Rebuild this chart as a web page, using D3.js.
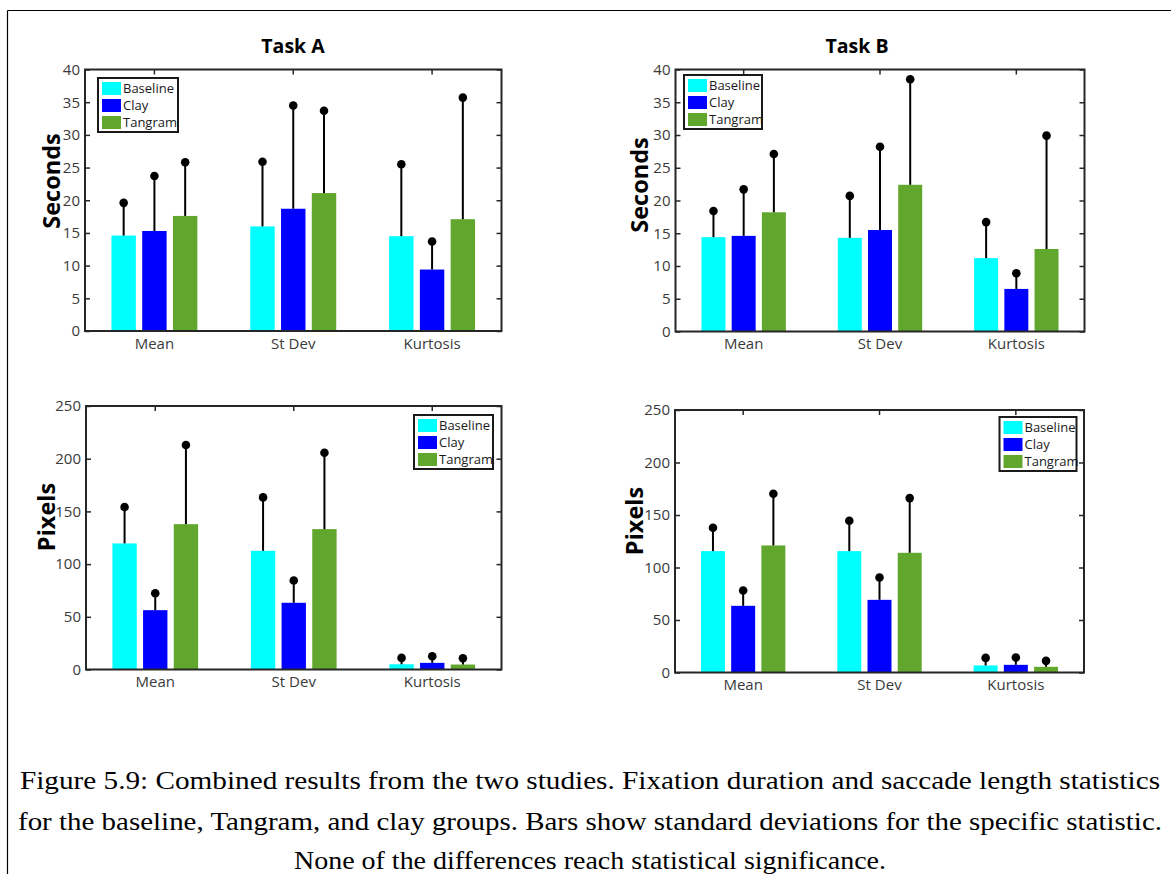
<!DOCTYPE html>
<html>
<head>
<meta charset="utf-8">
<script src="https://cdn.jsdelivr.net/npm/d3@7"></script>
<style>
  html, body { margin: 0; padding: 0; background: #fff; }
  svg { display: block; }
</style>
</head>
<body>
<svg id="fig" width="1171" height="874"></svg>
<script>
// Statistic categories on the x axis and the three participant groups
const categories = ["Mean", "St Dev", "Kurtosis"];
const groups = ["Baseline", "Clay", "Tangram"];
const groupColors = ["#00FFFF", "#0000FF", "#62A72D"];

// Task A, fixation duration (seconds): bar value and standard deviation
const taskASecBaseline = [14.6, 16.0, 14.5];
const taskASecBaselineSd = [5.0, 9.9, 11.0];
const taskASecClay = [15.3, 18.7, 9.4];
const taskASecClaySd = [8.4, 15.8, 4.3];
const taskASecTangram = [17.6, 21.1, 17.1];
const taskASecTangramSd = [8.2, 12.6, 18.6];

// Task B, fixation duration (seconds)
const taskBSecBaseline = [14.4, 14.3, 11.2];
const taskBSecBaselineSd = [4.0, 6.4, 5.5];
const taskBSecClay = [14.6, 15.5, 6.5];
const taskBSecClaySd = [7.1, 12.7, 2.4];
const taskBSecTangram = [18.2, 22.4, 12.6];
const taskBSecTangramSd = [8.9, 16.1, 17.3];

// Task A, saccade length (pixels)
const taskAPxBaseline = [119.6, 112.6, 5.0];
const taskAPxBaselineSd = [34.5, 50.7, 6.0];
const taskAPxClay = [56.3, 63.3, 6.3];
const taskAPxClaySd = [16.1, 21.2, 6.3];
const taskAPxTangram = [137.9, 133.2, 4.7];
const taskAPxTangramSd = [75.1, 72.5, 6.0];

// Task B, saccade length (pixels)
const taskBPxBaseline = [115.6, 115.6, 6.7];
const taskBPxBaselineSd = [22.2, 28.9, 7.2];
const taskBPxClay = [63.5, 69.2, 7.3];
const taskBPxClaySd = [14.6, 21.3, 7.0];
const taskBPxTangram = [121.0, 114.0, 5.4];
const taskBPxTangramSd = [49.2, 52.1, 5.7];

// Axis ticks
const secondsTicks = [0, 5, 10, 15, 20, 25, 30, 35, 40];
const pixelsTicks = [0, 50, 100, 150, 200, 250];

// Caption lines
const captionLines = [
  "Figure 5.9: Combined results from the two studies. Fixation duration and saccade length statistics",
  "for the baseline, Tangram, and clay groups. Bars show standard deviations for the specific statistic.",
  "None of the differences reach statistical significance."
];

const svg = d3.select("#fig");

// Page frame lines (top and left)
svg.append("line").attr("x1", 7.5).attr("y1", 10.5).attr("x2", 1171).attr("y2", 10.5)
  .attr("stroke", "#000").attr("stroke-width", 1.2);
svg.append("line").attr("x1", 7.5).attr("y1", 10.5).attr("x2", 7.5).attr("y2", 874)
  .attr("stroke", "#000").attr("stroke-width", 1.2);

const panels = [
  {
    title: "Task A", ylabel: "Seconds", ticks: secondsTicks, ymax: 40,
    box: { x0: 85, x1: 501.5, y0: 69.5, y1: 331 },
    titlePos: [293, 53], ylabelPos: [52, 181],
    legend: { x: 98, y: 78, w: 80 },
    series: [
      [taskASecBaseline, taskASecBaselineSd],
      [taskASecClay, taskASecClaySd],
      [taskASecTangram, taskASecTangramSd]
    ]
  },
  {
    title: "Task B", ylabel: "Seconds", ticks: secondsTicks, ymax: 40,
    box: { x0: 675.5, x1: 1084.5, y0: 69.5, y1: 331.5 },
    titlePos: [857, 53], ylabelPos: [640, 185],
    legend: { x: 684, y: 75, w: 78 },
    series: [
      [taskBSecBaseline, taskBSecBaselineSd],
      [taskBSecClay, taskBSecClaySd],
      [taskBSecTangram, taskBSecTangramSd]
    ]
  },
  {
    title: null, ylabel: "Pixels", ticks: pixelsTicks, ymax: 250,
    box: { x0: 86, x1: 501.5, y0: 406, y1: 669.5 },
    titlePos: null, ylabelPos: [47, 517],
    legend: { x: 414, y: 415, w: 79 },
    series: [
      [taskAPxBaseline, taskAPxBaselineSd],
      [taskAPxClay, taskAPxClaySd],
      [taskAPxTangram, taskAPxTangramSd]
    ]
  },
  {
    title: null, ylabel: "Pixels", ticks: pixelsTicks, ymax: 250,
    box: { x0: 675, x1: 1084, y0: 410, y1: 672.5 },
    titlePos: null, ylabelPos: [635, 521],
    legend: { x: 999.5, y: 417, w: 77 },
    series: [
      [taskBPxBaseline, taskBPxBaselineSd],
      [taskBPxClay, taskBPxClaySd],
      [taskBPxTangram, taskBPxTangramSd]
    ]
  }
];

const axisColor = "#262626";
const tickFont = "'Open Sans', 'DejaVu Sans', sans-serif";

panels.forEach(p => {
  const b = p.box;
  const g = svg.append("g");

  const x = d3.scaleBand().domain(categories).range([b.x0, b.x1]).padding(0);
  const inner = d3.scaleBand().domain(groups).range([0, x.bandwidth()])
    .paddingInner(0.206).paddingOuter(0.86);
  const y = d3.scaleLinear().domain([0, p.ymax]).range([b.y1, b.y0]);

  // bars
  p.series.forEach((s, gi) => {
    const vals = s[0];
    g.append("g").selectAll("rect").data(categories).join("rect")
      .attr("x", (c) => x(c) + inner(groups[gi]))
      .attr("y", (c, i) => y(vals[i]))
      .attr("width", inner.bandwidth())
      .attr("height", (c, i) => y(0) - y(vals[i]))
      .attr("fill", groupColors[gi]);
  });

  // upper error bars with round end markers
  p.series.forEach((s, gi) => {
    const vals = s[0], sds = s[1];
    const cx = (c) => x(c) + inner(groups[gi]) + inner.bandwidth() / 2;
    const grp = g.append("g");
    grp.selectAll("line").data(categories).join("line")
      .attr("x1", cx).attr("x2", cx)
      .attr("y1", (c, i) => y(vals[i]))
      .attr("y2", (c, i) => y(vals[i] + sds[i]))
      .attr("stroke", "#000").attr("stroke-width", 2);
    grp.selectAll("circle").data(categories).join("circle")
      .attr("cx", cx)
      .attr("cy", (c, i) => y(vals[i] + sds[i]))
      .attr("r", 4.3)
      .attr("fill", "#000");
  });

  // y axis on the left with inward ticks, mirrored ticks on the right
  const yAxis = g.append("g").attr("transform", `translate(${b.x0},0)`)
    .call(d3.axisLeft(y).tickValues(p.ticks).tickSize(-5).tickPadding(5).tickFormat(d3.format("d")));
  yAxis.select(".domain").remove();
  yAxis.selectAll(".tick line").attr("stroke", axisColor).attr("stroke-width", 1.5);
  yAxis.selectAll(".tick text").attr("fill", "#3a3a3a")
    .style("font-family", tickFont).style("font-size", "15px");

  const yRight = g.append("g").attr("transform", `translate(${b.x1},0)`)
    .call(d3.axisRight(y).tickValues(p.ticks).tickSize(-5).tickFormat(""));
  yRight.select(".domain").remove();
  yRight.selectAll(".tick line").attr("stroke", axisColor).attr("stroke-width", 1.5);

  // x axis category labels and inward ticks on top
  const xAxis = g.append("g").attr("transform", `translate(0,${b.y1})`)
    .call(d3.axisBottom(x).tickSize(0).tickPadding(7));
  xAxis.select(".domain").remove();
  xAxis.selectAll(".tick text").attr("fill", "#3a3a3a")
    .style("font-family", tickFont).style("font-size", "15px");

  const xTop = g.append("g").attr("transform", `translate(0,${b.y0})`)
    .call(d3.axisTop(x).tickSize(-5).tickFormat(""));
  xTop.select(".domain").remove();
  xTop.selectAll(".tick line").attr("stroke", axisColor).attr("stroke-width", 1.5);

  // axes box
  g.append("rect")
    .attr("x", b.x0).attr("y", b.y0)
    .attr("width", b.x1 - b.x0).attr("height", b.y1 - b.y0)
    .attr("fill", "none").attr("stroke", axisColor).attr("stroke-width", 2);

  // title
  if (p.title) {
    g.append("text").attr("x", p.titlePos[0]).attr("y", p.titlePos[1])
      .attr("text-anchor", "middle")
      .style("font-family", tickFont).style("font-weight", "bold").style("font-size", "19.5px")
      .attr("fill", "#000").text(p.title);
  }

  // y label
  g.append("text")
    .attr("transform", `translate(${p.ylabelPos[0]},${p.ylabelPos[1]}) rotate(-90)`)
    .attr("text-anchor", "middle").attr("dy", "0.35em")
    .style("font-family", tickFont).style("font-weight", "bold").style("font-size", "23.5px")
    .attr("fill", "#000").text(p.ylabel);

  // legend
  const L = p.legend;
  const rowH = 17;
  const lg = g.append("g").attr("transform", `translate(${L.x},${L.y})`);
  lg.append("rect").attr("x", 0).attr("y", 0).attr("width", L.w).attr("height", rowH * 3 + 3)
    .attr("fill", "#fff").attr("stroke", "#1a1a1a").attr("stroke-width", 2);
  groups.forEach((name, i) => {
    lg.append("rect").attr("x", 4).attr("y", 4 + i * rowH).attr("width", 19).attr("height", 13)
      .attr("fill", groupColors[i]);
    lg.append("text").attr("x", 25).attr("y", 10.5 + i * rowH).attr("dy", "0.35em")
      .style("font-family", tickFont).style("font-size", "13px")
      .attr("fill", "#1a1a1a").text(name);
  });
});

// caption
const capY = [789, 830, 869];
const capW = [1140, 1144, 592];
captionLines.forEach((t, i) => {
  svg.append("text")
    .attr("x", 590).attr("y", capY[i])
    .attr("text-anchor", "middle")
    .attr("textLength", capW[i]).attr("lengthAdjust", "spacingAndGlyphs")
    .style("font-family", "'Liberation Serif', 'Times New Roman', serif")
    .style("font-size", "26px")
    .attr("fill", "#000")
    .text(t);
});
</script>
</body>
</html>
